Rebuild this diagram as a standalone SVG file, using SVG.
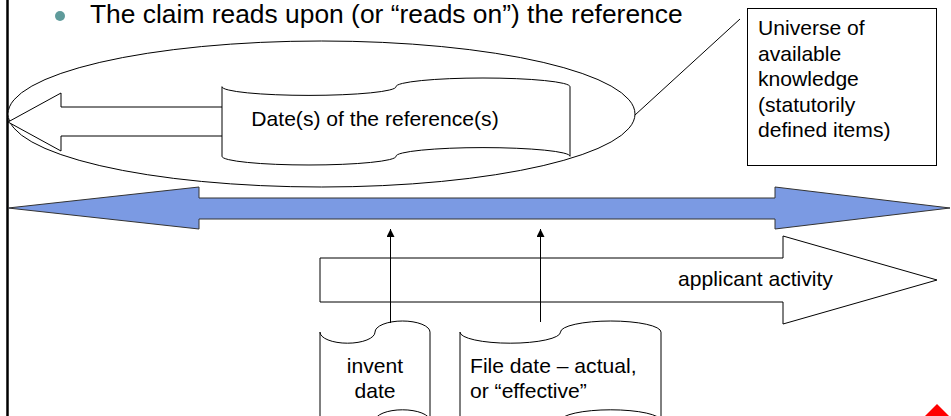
<svg xmlns="http://www.w3.org/2000/svg" width="951" height="416" viewBox="0 0 951 416">
<style>
  text { font-family: "Liberation Sans", Arial, sans-serif; fill: #000; }
  .t { font-size: 21.1px; }
  .title { font-size: 26.4px; }
  .shape { fill: #fff; stroke: #000; stroke-width: 1; }
  .conn { stroke: #000; stroke-width: 1; fill: none; }
</style>
<defs>
  <marker id="ah" viewBox="0 0 8 8" refX="8" refY="4" markerWidth="8" markerHeight="8" markerUnits="userSpaceOnUse" orient="auto">
    <path d="M0,0 L8,4 L0,8 Z" fill="#000"/>
  </marker>
</defs>
<rect x="0" y="0" width="951" height="416" fill="#fff"/>
<line x1="7.5" y1="0" x2="7.5" y2="416" stroke="#000" stroke-width="2.5"/>

<g id="title">
  <circle cx="60" cy="16" r="5" fill="#5f9b9b"/>
  <text class="title" x="90" y="23">The claim reads upon (or “reads on”) the reference</text>
</g>

<g id="universe-ellipse">
  <ellipse cx="321.5" cy="114" rx="313.5" ry="73" class="shape"/>
</g>

<g id="reference-arrow">
  <path d="M8,122 L61,93 L61,107 L232,107 L232,136 L61,136 L61,151 Z" class="shape"/>
</g>

<g id="reference-dates">
  <path d="M222,86.7 A87,8.7 0 0 0 396,86.7 A87,8.7 0 0 1 570,86.7 L570,156.3 A87,8.7 0 0 0 396,156.3 A87,8.7 0 0 1 222,156.3 Z" class="shape"/>
  <text class="t" x="375" y="126" text-anchor="middle">Date(s) of the reference(s)</text>
</g>

<g id="universe-box">
  <rect x="747.5" y="8.5" width="189" height="157" class="shape"/>
  <text class="t" x="758" y="35">Universe of</text>
  <text class="t" x="758" y="60.5">available</text>
  <text class="t" x="758" y="86">knowledge</text>
  <text class="t" x="758" y="111.5">(statutorily</text>
  <text class="t" x="758" y="137">defined items)</text>
</g>

<g id="timeline">
  <path d="M8,208 L199,187 L199,198 L775,198 L775,187 L950,208 L775,229 L775,219 L199,219 L199,229 Z" fill="#7b9ae3" stroke="#333" stroke-width="1"/>
</g>

<g id="applicant-activity">
  <path d="M320,258 L783,258 L783,236 L937,280 L783,324 L783,302 L320,302 Z" class="shape"/>
  <text class="t" x="755.5" y="286" text-anchor="middle">applicant activity</text>
</g>

<g id="invent-date">
  <path d="M320,332.1 A27.5,11.1 0 0 0 375,332.1 A27.5,11.1 0 0 1 430,332.1 L430,420.9 A27.5,11.1 0 0 0 375,420.9 A27.5,11.1 0 0 1 320,420.9 Z" class="shape"/>
  <text class="t" x="375" y="373" text-anchor="middle">invent</text>
  <text class="t" x="375" y="398" text-anchor="middle">date</text>
</g>

<g id="file-date">
  <path d="M460,332.1 A50.25,11.1 0 0 0 560.5,332.1 A50.25,11.1 0 0 1 661,332.1 L661,420.9 A50.25,11.1 0 0 0 560.5,420.9 A50.25,11.1 0 0 1 460,420.9 Z" class="shape"/>
  <text class="t" x="470" y="373">File date – actual,</text>
  <text class="t" x="470" y="398">or “effective”</text>
</g>

<g id="connectors">
  <line x1="635" y1="115" x2="740" y2="19" class="conn"/>
  <line x1="390.5" y1="323" x2="390.5" y2="229" class="conn" marker-end="url(#ah)"/>
  <line x1="540.5" y1="322" x2="540.5" y2="229" class="conn" marker-end="url(#ah)"/>
</g>

<polygon points="937,404 956,423 918,423" fill="#ff0000"/>
</svg>
